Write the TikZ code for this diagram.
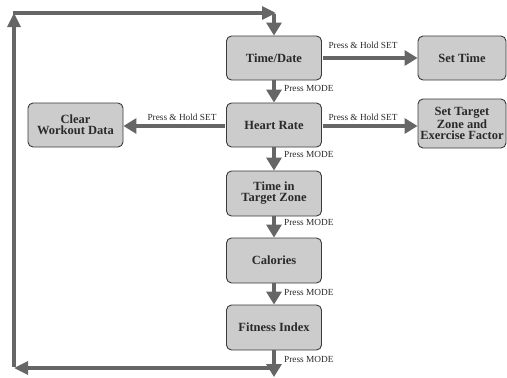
\documentclass[tikz,border=0pt]{standalone}
\usepackage{fontspec}
\setmainfont{Liberation Serif}
\usetikzlibrary{arrows.meta}
\definecolor{boxfill}{HTML}{CCCCCC}
\definecolor{boxline}{HTML}{3A3A3A}
\definecolor{arrgray}{HTML}{666666}
\definecolor{txt}{HTML}{2A2A2A}
\begin{document}
\begin{tikzpicture}[x=1pt,y=-1pt,
  box/.style={draw=boxline,line width=0.9pt,fill=boxfill,rounded corners=5pt,
    minimum width=95pt,minimum height=44pt,align=center,inner sep=0.5pt,
    text=txt,font=\fontsize{12.5}{11}\selectfont\bfseries},
  sidebox/.style={box,minimum width=88pt},
  arr/.style={draw=arrgray,line width=4pt,-{Triangle[length=13pt,width=15pt]}},
  loopl/.style={draw=arrgray,line width=3.2pt},
  looparr/.style={loopl,-{Triangle[length=14pt,width=13pt]}},
  lbl/.style={font=\fontsize{9.3}{10}\selectfont,text=txt,inner sep=0pt}
]
\useasboundingbox (0,0) rectangle (507,378);

\node[box] (TD) at (274,58) {Time/Date};
\node[sidebox] (ST) at (462,58) {Set Time};
\node[box] (HR) at (274,125) {Heart Rate};
\node[box] (CW) at (75.5,125) {Clear\\Workout Data};
\node[sidebox,minimum height=49pt] (SZ) at (462,123.5) {Set Target\\Zone and\\Exercise Factor};
\node[box,minimum height=45pt] (TZ) at (274,193.5) {Time in\\Target Zone};
\node[box,minimum height=45pt] (CA) at (274,260.5) {Calories};
\node[box,minimum height=45pt] (FI) at (274,327.5) {Fitness Index};

% vertical MODE arrows
\draw[arr] (TD.south) -- (HR.north);
\draw[arr] (HR.south) -- (TZ.north);
\draw[arr] (TZ.south) -- (CA.north);
\draw[arr] (CA.south) -- (FI.north);

\node[lbl,anchor=west] (m1) at (284,88) {Press MODE};
\node[lbl,anchor=west] (m2) at (284,154) {Press MODE};
\node[lbl,anchor=west] (m3) at (284,222) {Press MODE};
\node[lbl,anchor=west] (m4) at (284,292) {Press MODE};
\node[lbl,anchor=west] (m5) at (284,359) {Press MODE};

% horizontal SET arrows
\draw[arr] ([xshift=1pt]TD.east) -- (ST.west);
\draw[arr] ([xshift=1pt]HR.east |- 0,126) -- (SZ.west |- 0,126);
\draw[arr] ([xshift=-1pt]HR.west |- 0,126) -- (CW.east |- 0,126);

\node[lbl] (s1) at (363,45) {Press \& Hold SET};
\node[lbl] (s2) at (363,117) {Press \& Hold SET};
\node[lbl] (s3) at (182,117) {Press \& Hold SET};

% return loop
\coordinate (bot) at (274,377);
\coordinate (br) at (274,368);
\coordinate (bl) at (14,368);
\coordinate (tl) at (14,13);
\coordinate (tr) at (276,13);
\coordinate (trd) at (274,13);

\draw[arr] (FI.south) -- (bot);
\draw[looparr] (br) -- (bl);
\draw[looparr] ([yshift=1.5pt]bl) -- (tl);
\draw[looparr] ([xshift=-1.5pt]tl) -- (tr);
\draw[arr] ([yshift=-1pt]trd) -- (TD.north);
\end{tikzpicture}
\end{document}
